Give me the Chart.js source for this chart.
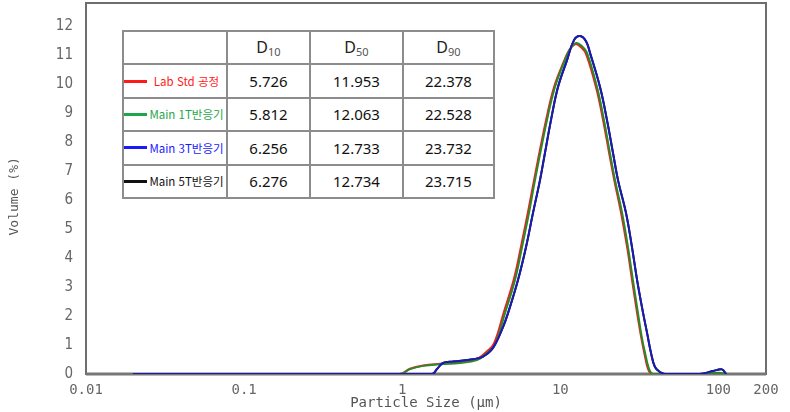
<!DOCTYPE html>
<html lang="ko">
<head>
<meta charset="UTF-8">
<title>Particle Size Distribution</title>
<script src="https://cdn.jsdelivr.net/npm/chart.js"></script>
<style>
    body { margin: 0; background: #ffffff; }
    #wrap { position: relative; width: 790px; height: 412px; }
    #psd { position: absolute; left: 0; top: 0; }
    table.dtab {
        position: absolute;
        left: 122px;
        top: 30px;
        border-collapse: collapse;
        table-layout: fixed;
        background: #ffffff;
        font-family: 'Noto Sans', 'Noto Sans CJK KR', sans-serif;
    }
    table.dtab td {
        border: 2px solid #8c8c8c;
        height: 31.4px;
        padding: 0;
        text-align: center;
        font-size: 15px;
        color: #111;
    }
    table.dtab td.hd { font-size: 16px; color: #222; }
    table.dtab td.hd sub { font-size: 11px; color: #555; vertical-align: -3px; }
    .lg { display: flex; align-items: center; height: 100%; }
    .lg i { display: block; width: 23px; height: 3px; flex: none; }
    .lg span {
        flex: 1;
        text-align: center;
        font-family: 'Noto Sans CJK KR', sans-serif;
        font-size: 11.5px;
        white-space: nowrap;
    }
</style>
</head>
<body>
<div id="wrap">
    <canvas id="psd" width="790" height="412"></canvas>
    <table class="dtab" id="dtab">
        <colgroup>
            <col style="width:104px"><col style="width:83px"><col style="width:93px"><col style="width:91px">
        </colgroup>
        <tbody id="dbody"></tbody>
    </table>
</div>

<script>
    // axis ticks
    const xTicks = [0.01, 0.1, 1, 10, 100, 200];
    const xTickLabels = ["0.01", "0.1", "1", "10", "100", "200"];
    const yTicks = [0, 1, 2, 3, 4, 5, 6, 7, 8, 9, 10, 11, 12];

    // table
    const seriesNames = ["Lab Std 공정", "Main 1T반응기", "Main 3T반응기", "Main 5T반응기"];
    const seriesColors = ["#ff1a1a", "#1fa64a", "#1a1aff", "#111111"];
    const d10 = ["5.726", "5.812", "6.256", "6.276"];
    const d50 = ["11.953", "12.063", "12.733", "12.734"];
    const d90 = ["22.378", "22.528", "23.732", "23.715"];

    // Lab Std
    const labSize = [0.0198, 0.968, 1.12, 1.354, 1.734, 2.32, 2.97, 3.40, 3.80, 4.40, 5.10, 5.65, 6.25, 6.84, 8.14, 9.15, 10.6, 11.4, 12.45, 13.6, 14.6, 16.9, 18.7, 20.4, 22.0, 24.3, 26.5, 28.5, 30.7, 32.4, 33.9, 36.0, 38.2, 76.5, 100, 111.7];
    const labVol = [0, 0, 0.18, 0.29, 0.35, 0.40, 0.52, 0.76, 1.05, 2.15, 3.30, 4.42, 5.60, 6.72, 8.78, 9.92, 10.82, 11.18, 11.38, 11.26, 11.02, 9.85, 8.72, 7.60, 6.66, 5.52, 4.35, 3.20, 2.06, 1.30, 0.75, 0.15, 0, 0, 0.03, 0];

    // Main 1T
    const m1Size = [0.0198, 0.968, 1.12, 1.354, 1.734, 2.32, 2.97, 3.44, 3.86, 4.47, 5.17, 5.73, 6.34, 6.92, 8.24, 9.26, 10.7, 11.52, 12.57, 13.72, 14.75, 17.07, 18.9, 20.6, 22.2, 24.6, 26.8, 28.8, 31.0, 32.7, 34.3, 36.4, 38.6, 76.5, 100, 111.7];
    const m1Vol = [0, 0, 0.17, 0.28, 0.34, 0.38, 0.48, 0.72, 1.0, 2.1, 3.24, 4.38, 5.56, 6.69, 8.76, 9.90, 10.83, 11.21, 11.42, 11.31, 11.08, 9.90, 8.76, 7.63, 6.69, 5.56, 4.38, 3.24, 2.10, 1.30, 0.75, 0.18, 0, 0, 0.04, 0];

    // Main 3T
    const m3Size = [0.0198, 1.543, 1.66, 1.81, 2.10, 2.80, 3.24, 3.75, 4.34, 4.67, 5.40, 6.07, 6.72, 7.44, 8.00, 8.73, 9.67, 11.03, 12.21, 13.32, 14.54, 15.41, 17.83, 19.74, 21.54, 23.17, 26.03, 28.4, 30.6, 33.4, 35.4, 37.5, 39.7, 42.7, 45.9, 76.5, 92.5, 105.4, 111.7];
    const m3Vol = [0, 0, 0.17, 0.38, 0.43, 0.51, 0.60, 0.90, 1.62, 2.10, 3.24, 4.38, 5.56, 6.69, 7.63, 8.76, 9.90, 10.83, 11.52, 11.66, 11.48, 11.08, 9.90, 8.76, 7.63, 6.69, 5.56, 4.38, 3.24, 2.10, 1.41, 0.72, 0.24, 0.07, 0, 0, 0.10, 0.16, 0];

    // Main 5T (lies under the 3T curve)
    const m5Size = [0.0198, 1.543, 1.66, 1.81, 2.10, 2.80, 3.24, 3.75, 4.34, 4.67, 5.40, 6.07, 6.72, 7.44, 8.00, 8.73, 9.67, 11.03, 12.21, 13.32, 14.54, 15.41, 17.83, 19.74, 21.54, 23.17, 26.03, 28.4, 30.6, 33.4, 35.4, 37.5, 39.7, 42.7, 45.9, 76.5, 92.5, 105.4, 111.7];
    const m5Vol = [0, 0, 0.17, 0.38, 0.43, 0.51, 0.60, 0.90, 1.62, 2.10, 3.24, 4.38, 5.56, 6.69, 7.63, 8.76, 9.90, 10.83, 11.52, 11.66, 11.48, 11.08, 9.90, 8.76, 7.63, 6.69, 5.56, 4.38, 3.24, 2.10, 1.41, 0.72, 0.24, 0.07, 0, 0, 0.10, 0.16, 0];

    const curveColors = ["#1a1ab4", "#2a8a2a", "#ee2020", "#111111"];

    function pts(xs, ys) {
        return xs.map((x, i) => ({x: x, y: ys[i]}));
    }

    // table rows
    const tbody = document.getElementById("dbody");
    let html = '<tr><td></td><td class="hd">D<sub>10</sub></td><td class="hd">D<sub>50</sub></td><td class="hd">D<sub>90</sub></td></tr>';
    seriesNames.forEach((name, i) => {
        html += '<tr><td><div class="lg"><i style="background:' + seriesColors[i] + '"></i><span style="color:' + seriesColors[i] + '">' + name + '</span></div></td>' +
            '<td>' + d10[i] + '</td><td>' + d50[i] + '</td><td>' + d90[i] + '</td></tr>';
    });
    tbody.innerHTML = html;

    const framePlugin = {
        id: "frame",
        beforeDatasetsDraw(chart) {
            const {ctx, chartArea: a} = chart;
            ctx.save();
            ctx.strokeStyle = "#6e6e6e";
            ctx.lineWidth = 2;
            ctx.strokeRect(a.left, a.top, a.right - a.left, a.bottom - a.top);
            ctx.lineWidth = 3;
            ctx.strokeStyle = "#777";
            ctx.beginPath();
            ctx.moveTo(a.left, a.bottom);
            ctx.lineTo(a.right, a.bottom);
            ctx.stroke();
            ctx.restore();
        }
    };

    const tickFont = {family: "'DejaVu Sans Mono', monospace", size: 14};

    new Chart(document.getElementById("psd"), {
        type: "line",
        data: {
            datasets: [
                {label: "Main 3T반응기", data: pts(m3Size, m3Vol), borderColor: curveColors[0]},
                {label: "Main 1T반응기", data: pts(m1Size, m1Vol), borderColor: curveColors[1]},
                {label: "Lab Std 공정", data: pts(labSize, labVol), borderColor: curveColors[2]},
                {label: "Main 5T반응기", data: pts(m5Size, m5Vol), borderColor: curveColors[3]}
            ]
        },
        options: {
            responsive: false,
            animation: false,
            devicePixelRatio: 1,
            layout: {padding: {top: 3, right: 24, left: 0, bottom: 0}},
            elements: {
                line: {borderWidth: 2, tension: 0.4, fill: false},
                point: {radius: 0}
            },
            plugins: {legend: {display: false}, tooltip: {enabled: false}},
            scales: {
                x: {
                    type: "logarithmic",
                    min: 0.01,
                    max: 200,
                    grid: {display: false},
                    border: {display: false},
                    afterBuildTicks: (s) => { s.ticks = xTicks.map(v => ({value: v})); },
                    afterFit: (s) => { s.height = 38; s.paddingLeft = 0; s.paddingRight = 0; },
                    ticks: {
                        autoSkip: false,
                        maxRotation: 0,
                        padding: 0,
                        color: "#666",
                        font: tickFont,
                        callback: (v, i) => xTickLabels[i]
                    },
                    title: {
                        display: true,
                        text: "Particle Size (µm)",
                        color: "#555",
                        font: {family: "'DejaVu Sans Mono', monospace", size: 14},
                        padding: {top: 0, bottom: 0}
                    }
                },
                y: {
                    min: 0,
                    max: 12.8,
                    grid: {display: false},
                    border: {display: false},
                    afterBuildTicks: (s) => { s.ticks = yTicks.map(v => ({value: v})); },
                    afterFit: (s) => { s.width = 86; s.paddingTop = 0; s.paddingBottom = 0; },
                    ticks: {
                        padding: 5,
                        color: "#666",
                        font: {family: "'Liberation Sans Narrow', 'DejaVu Sans Condensed', 'Liberation Sans', sans-serif", size: 15}
                    },
                    title: {
                        display: true,
                        text: "Volume (%)  ",
                        color: "#555",
                        font: {family: "'DejaVu Sans Mono', monospace", size: 13},
                        padding: {top: 7, bottom: 0}
                    }
                }
            }
        },
        plugins: [framePlugin]
    });
</script>
</body>
</html>
